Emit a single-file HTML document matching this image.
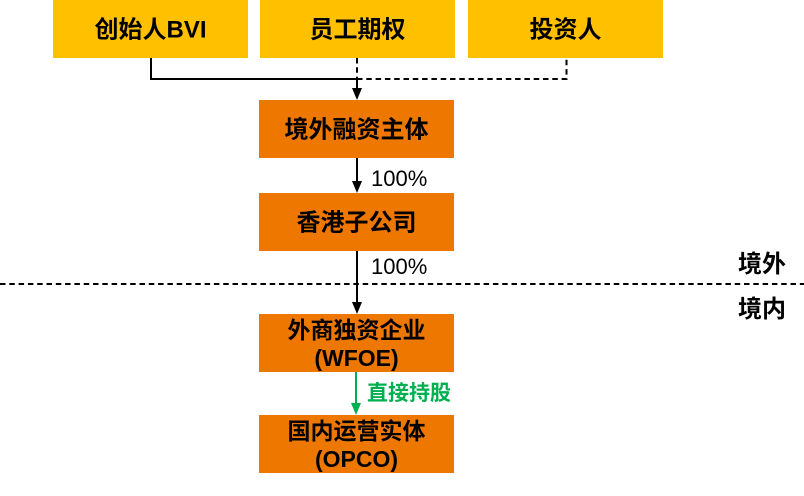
<!DOCTYPE html>
<html>
<head>
<meta charset="utf-8">
<style>
  html,body{margin:0;padding:0;background:#fff;}
  body{width:804px;height:496px;overflow:hidden;}
  svg{display:block;}
  .t{font-family:"Liberation Sans","Noto Sans CJK SC",sans-serif;font-weight:bold;fill:#000;}
  .p{font-family:"Liberation Sans","Noto Sans CJK SC",sans-serif;font-weight:normal;fill:#000;}
</style>
</head>
<body>
<svg width="804" height="496" viewBox="0 0 804 496" xmlns="http://www.w3.org/2000/svg">
  <!-- top boxes -->
  <rect x="53" y="0" width="195" height="58" fill="#FFC000"/>
  <rect x="260" y="0" width="195" height="58" fill="#FFC000"/>
  <rect x="468" y="0" width="195" height="58" fill="#FFC000"/>
  <text class="t" x="150.5" y="37.5" font-size="24" text-anchor="middle">创始人BVI</text>
  <text class="t" x="357.5" y="37.5" font-size="24" text-anchor="middle">员工期权</text>
  <text class="t" x="565.5" y="37.5" font-size="24" text-anchor="middle">投资人</text>

  <!-- connectors from top -->
  <polyline points="151,58 151,79 357,79" fill="none" stroke="#000" stroke-width="2"/>
  <line x1="357" y1="58" x2="357" y2="79" stroke="#000" stroke-width="2" stroke-dasharray="5.5 3.8"/>
  <polyline points="357,79 566.5,79 566.5,58" fill="none" stroke="#000" stroke-width="2" stroke-dasharray="5.5 3.8"/>
  <line x1="357" y1="79" x2="357" y2="90" stroke="#000" stroke-width="2"/>
  <polygon points="352,88 362,88 357,100" fill="#000"/>

  <!-- orange boxes -->
  <rect x="259" y="100" width="195" height="58" fill="#EE7700"/>
  <text class="t" x="356.5" y="137.5" font-size="24" text-anchor="middle">境外融资主体</text>

  <line x1="357" y1="158" x2="357" y2="182" stroke="#000" stroke-width="2"/>
  <polygon points="352,181 362,181 357,193" fill="#000"/>
  <text class="p" x="371" y="186" font-size="22">100%</text>

  <rect x="259" y="193" width="195" height="58" fill="#EE7700"/>
  <text class="t" x="356.5" y="230.5" font-size="24" text-anchor="middle">香港子公司</text>

  <line x1="357" y1="251" x2="357" y2="303" stroke="#000" stroke-width="2"/>
  <polygon points="352,302 362,302 357,314" fill="#000"/>
  <text class="p" x="371" y="274" font-size="22">100%</text>

  <!-- border dashed line -->
  <line x1="0" y1="284" x2="804" y2="284" stroke="#000" stroke-width="2" stroke-dasharray="5.5 3.8"/>
  <text class="t" x="738" y="272" font-size="24">境外</text>
  <text class="t" x="738" y="317" font-size="24">境内</text>

  <rect x="259" y="314" width="195" height="58" fill="#EE7700"/>
  <text class="t" x="356.5" y="338" font-size="23" text-anchor="middle">外商独资企业</text>
  <text class="t" x="356.5" y="366" font-size="23" text-anchor="middle">(WFOE)</text>

  <!-- green arrow -->
  <line x1="356" y1="372" x2="356" y2="405" stroke="#00B050" stroke-width="2"/>
  <polygon points="351,403 361,403 356,415" fill="#00B050"/>
  <text class="t" x="367" y="400" font-size="21" style="fill:#00B050">直接持股</text>

  <rect x="259" y="415" width="195" height="58" fill="#EE7700"/>
  <text class="t" x="356.5" y="439" font-size="23" text-anchor="middle">国内运营实体</text>
  <text class="t" x="356.5" y="467" font-size="23" text-anchor="middle">(OPCO)</text>
</svg>
</body>
</html>
